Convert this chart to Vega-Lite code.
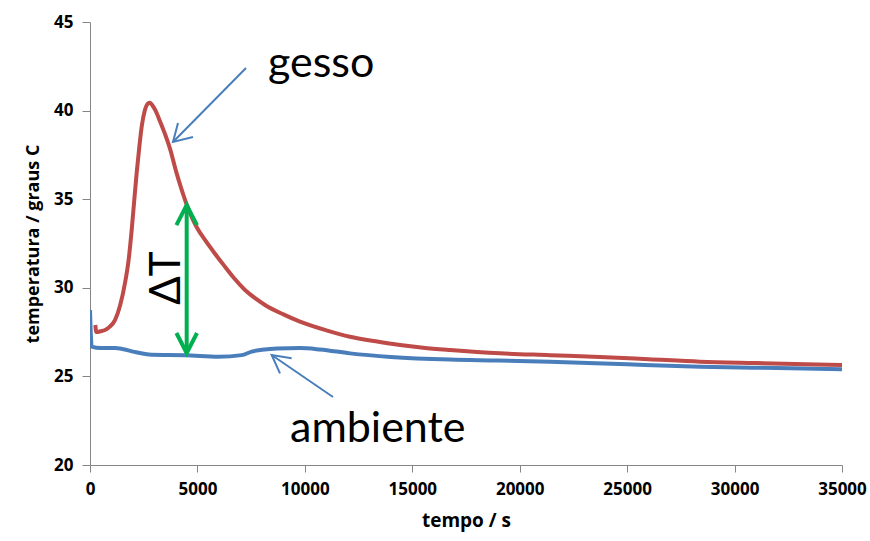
{
  "$schema": "https://vega.github.io/schema/vega-lite/v6.json",
  "width": 752,
  "height": 443,
  "autosize": {"type": "none"},
  "padding": {"left": 90, "top": 22, "right": 28, "bottom": 76},
  "background": "white",
  "config": {"view": {"stroke": null}},
  "datasets": {
    "gesso": [
      {"x": 250, "y": 27.9}, {"x": 290, "y": 27.5}, {"x": 500, "y": 27.55}, {"x": 700, "y": 27.62},
      {"x": 900, "y": 27.78}, {"x": 1163, "y": 28.18}, {"x": 1400, "y": 29.0}, {"x": 1629, "y": 30.27},
      {"x": 1800, "y": 31.6}, {"x": 1940, "y": 33.26}, {"x": 2050, "y": 34.8}, {"x": 2172, "y": 36.48},
      {"x": 2300, "y": 38.0}, {"x": 2405, "y": 39.09}, {"x": 2550, "y": 40.0}, {"x": 2700, "y": 40.4},
      {"x": 2793, "y": 40.45}, {"x": 2900, "y": 40.3}, {"x": 3050, "y": 40.0}, {"x": 3258, "y": 39.4},
      {"x": 3500, "y": 38.65}, {"x": 3723, "y": 37.85}, {"x": 4000, "y": 36.6}, {"x": 4250, "y": 35.6},
      {"x": 4500, "y": 34.7}, {"x": 4750, "y": 33.95}, {"x": 5000, "y": 33.35}, {"x": 5352, "y": 32.7},
      {"x": 5800, "y": 31.95}, {"x": 6283, "y": 31.19},
      {"x": 6700, "y": 30.55}, {"x": 7214, "y": 29.88}, {"x": 7700, "y": 29.4}, {"x": 8144, "y": 29.03},
      {"x": 9000, "y": 28.5}, {"x": 9774, "y": 28.09}, {"x": 11000, "y": 27.6}, {"x": 12101, "y": 27.24},
      {"x": 13300, "y": 26.98}, {"x": 14428, "y": 26.77}, {"x": 15500, "y": 26.62}, {"x": 16755, "y": 26.49},
      {"x": 19082, "y": 26.3}, {"x": 21410, "y": 26.2}, {"x": 23736, "y": 26.1}, {"x": 26000, "y": 25.97},
      {"x": 28391, "y": 25.83}, {"x": 31000, "y": 25.75}, {"x": 35000, "y": 25.64}
    ],
    "ambiente": [
      {"x": 0, "y": 28.75}, {"x": 80, "y": 26.68}, {"x": 500, "y": 26.6}, {"x": 1163, "y": 26.6},
      {"x": 1500, "y": 26.55}, {"x": 2000, "y": 26.4}, {"x": 2870, "y": 26.22}, {"x": 4421, "y": 26.2},
      {"x": 5971, "y": 26.11}, {"x": 7059, "y": 26.2}, {"x": 7525, "y": 26.4}, {"x": 8000, "y": 26.5},
      {"x": 8711, "y": 26.58}, {"x": 9774, "y": 26.6}, {"x": 10705, "y": 26.52}, {"x": 12101, "y": 26.3},
      {"x": 14000, "y": 26.1}, {"x": 16755, "y": 25.95}, {"x": 19000, "y": 25.9}, {"x": 21410, "y": 25.83},
      {"x": 25000, "y": 25.68}, {"x": 28391, "y": 25.55}, {"x": 32000, "y": 25.47}, {"x": 35000, "y": 25.4}
    ],
    "blueArrows": [
      {"g": "gs", "o": 1, "x": 7261, "y": 42.4}, {"g": "gs", "o": 2, "x": 3863, "y": 38.23},
      {"g": "gh", "o": 1, "x": 4096, "y": 39.3}, {"g": "gh", "o": 2, "x": 3863, "y": 38.23}, {"g": "gh", "o": 3, "x": 4794, "y": 38.51},
      {"g": "as", "o": 1, "x": 11310, "y": 23.84}, {"g": "as", "o": 2, "x": 8455, "y": 26.21},
      {"g": "ah", "o": 1, "x": 8843, "y": 25.17}, {"g": "ah", "o": 2, "x": 8455, "y": 26.21}, {"g": "ah", "o": 3, "x": 9386, "y": 26.02}
    ],
    "greenHeads": [
      {"g": "up", "o": 1, "x": 4020, "y": 33.54}, {"g": "up", "o": 2, "x": 4500, "y": 34.67}, {"g": "up", "o": 3, "x": 4980, "y": 33.54},
      {"g": "dn", "o": 1, "x": 4020, "y": 27.45}, {"g": "dn", "o": 2, "x": 4500, "y": 26.32}, {"g": "dn", "o": 3, "x": 4980, "y": 27.45}
    ],
    "greenShaft": [{"x": 4500, "y": 26.32, "y2": 34.67}],
    "labels": [
      {"x": 8285, "y": 41.9, "label": "gesso"},
      {"x": 9309, "y": 21.3, "label": "ambiente"}
    ],
    "delta": [{"x": 3584, "y": 30.55, "label": "ΔT"}]
  },
  "encoding": {
    "x": {
      "field": "x", "type": "quantitative",
      "scale": {"domain": [0, 35000], "nice": false, "zero": false},
      "axis": {
        "title": "tempo / s", "values": [0, 5000, 10000, 15000, 20000, 25000, 30000, 35000], "format": "d",
        "grid": false, "domainColor": "#868686", "tickColor": "#868686", "tickSize": 7,
        "labelFont": "Open Sans", "labelFontWeight": "bold", "labelFontSize": 17, "labelColor": "#000000",
        "labelPadding": 9, "labelFlush": false, "labelOverlap": false,
        "titleFont": "Open Sans", "titleFontWeight": "bold", "titleFontSize": 19, "titleColor": "#000000",
        "titleY": 61, "titleBaseline": "alphabetic"
      }
    },
    "y": {
      "field": "y", "type": "quantitative",
      "scale": {"domain": [20, 45], "nice": false, "zero": false},
      "axis": {
        "title": "temperatura / graus C", "values": [20, 25, 30, 35, 40, 45],
        "grid": false, "domainColor": "#868686", "tickColor": "#868686", "tickSize": 8,
        "labelFont": "Open Sans", "labelFontWeight": "bold", "labelFontSize": 17, "labelColor": "#000000",
        "labelPadding": 9, "labelFlush": false, "labelOverlap": false,
        "titleFont": "Open Sans", "titleFontWeight": "bold", "titleFontSize": 18, "titleColor": "#000000",
        "titleX": -52, "titleY": 221.5, "titleBaseline": "alphabetic", "titleAlign": "center", "titleAngle": 270
      }
    }
  },
  "layer": [
    {"data": {"name": "ambiente"}, "mark": {"type": "line", "color": "#4A7EBB", "strokeWidth": 4, "interpolate": "monotone", "clip": true}},
    {"data": {"name": "gesso"}, "mark": {"type": "line", "color": "#BE4B48", "strokeWidth": 4, "interpolate": "monotone", "clip": true}},
    {"data": {"name": "blueArrows"}, "mark": {"type": "line", "color": "#4A7EBB", "strokeWidth": 2},
     "encoding": {"detail": {"field": "g"}, "order": {"field": "o", "type": "quantitative"}}},
    {"data": {"name": "greenShaft"}, "mark": {"type": "rule", "color": "#00B050", "strokeWidth": 4},
     "encoding": {"y2": {"field": "y2"}}},
    {"data": {"name": "greenHeads"}, "mark": {"type": "line", "color": "#00B050", "strokeWidth": 4},
     "encoding": {"detail": {"field": "g"}, "order": {"field": "o", "type": "quantitative"}}},
    {"data": {"name": "labels"}, "mark": {"type": "text", "font": "Lato", "fontSize": 43, "align": "left", "baseline": "alphabetic", "color": "#000000"},
     "encoding": {"text": {"field": "label"}}},
    {"data": {"name": "delta"}, "mark": {"type": "text", "font": "Lato", "fontSize": 42, "align": "center", "baseline": "middle", "angle": 270, "color": "#000000"},
     "encoding": {"text": {"field": "label"}}}
  ]
}
